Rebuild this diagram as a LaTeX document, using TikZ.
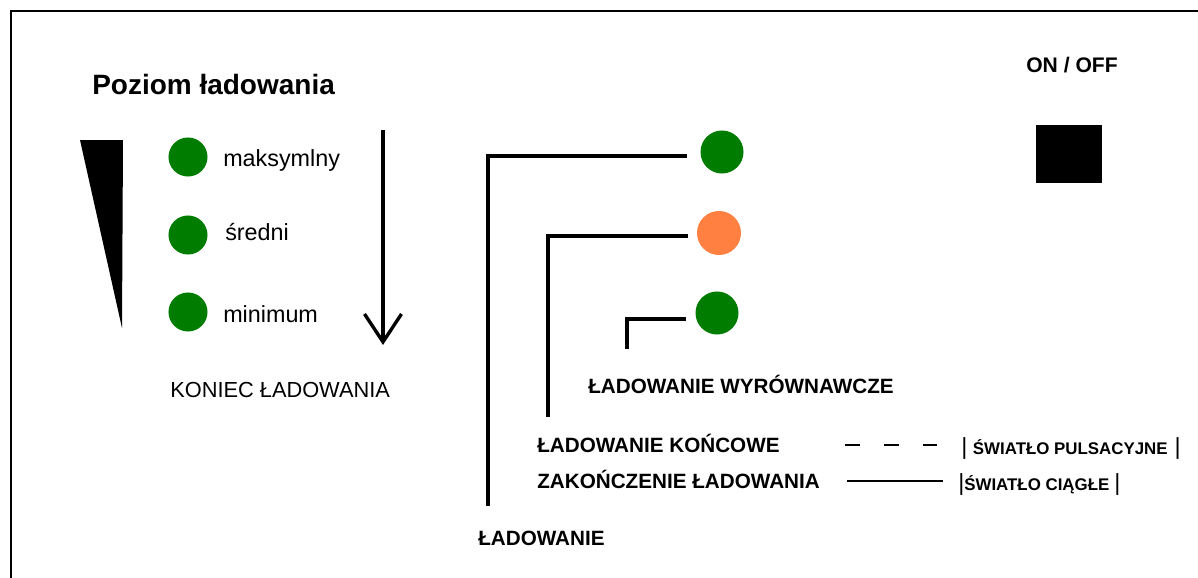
\documentclass[tikz,border=0pt]{standalone}
\usepackage{fontspec}
\setmainfont{Liberation Sans}
\usetikzlibrary{arrows.meta}
\definecolor{ledgreen}{RGB}{0,125,0}
\definecolor{ledorange}{RGB}{255,128,64}
\tikzset{
  led/.style={circle, fill=#1, inner sep=0pt, minimum size=1.075cm},
  ledlvl/.style={circle, fill=ledgreen, inner sep=0pt, minimum size=0.975cm},
  lvltext/.style={anchor=base west, inner sep=0pt, font=\fontsize{16.6pt}{20pt}\selectfont},
  modetext/.style={anchor=base west, inner sep=0pt, font=\bfseries\fontsize{14.7pt}{18pt}\selectfont},
  lighttext/.style={anchor=base west, inner sep=0pt, font=\bfseries\fontsize{12pt}{14pt}\selectfont},
  wire/.style={line width=2.3pt},
  sample/.style={line width=1.1pt},
}
\newcommand{\lbar}{{\mdseries\fontsize{16.6pt}{18pt}\selectfont|}}

\begin{document}
\begin{tikzpicture}[x=0.025cm, y=-0.025cm]
			\useasboundingbox (0,0) rectangle (1198,578);
			\draw[line width=1.4pt] (1198,11)--(11,11)--(11,578);
			%%%%%%%%%%%%%%%%%%%%%%%%%%%%%%%%
			\node[anchor=base west, inner sep=0pt, font=\bfseries\fontsize{19.9pt}{24pt}\selectfont] (title) at (92,95) {Poziom ładowania};
			\fill (80,140)--(123,140)--(122,328)--cycle;
			\node[ledlvl] (ledmax) at (188,157) {};
			\node[ledlvl] (ledmid) at (188,235) {};
			\node[ledlvl] (ledmin) at (188,312) {};
			\node[lvltext] (lvlmax) at (223,166) {maksymlny};
			\node[lvltext] (lvlmid) at (225,240) {średni};
			\node[lvltext] (lvlmin) at (223,322) {minimum};
			\coordinate (arrtop) at (383,130);
			\coordinate (arrtip) at (383,345);
			\draw[line width=2.4pt, -{Straight Barb[length=0.7cm, width=0.925cm]}] (arrtop)--(arrtip);
			\node[anchor=base west, inner sep=0pt, font=\fontsize{15.5pt}{18pt}\selectfont] (endtext) at (170,397) {KONIEC ŁADOWANIA};
			%%%%%%%%%%%%%%%%%%%%%%%%%%%%%
			\node[led=ledgreen] (ledA) at (722,152) {};
			\node[led=ledorange, minimum size=1.1cm] (ledB) at (719,233) {};
			\node[led=ledgreen] (ledC) at (717,313) {};
			\node[modetext] (modeC) at (588,393) {ŁADOWANIE WYRÓWNAWCZE};
			\node[modetext] (modeB) at (537,452) {ŁADOWANIE KOŃCOWE};
			\node[modetext] (modeD) at (537,488) {ZAKOŃCZENIE ŁADOWANIA};
			\node[modetext] (modeA) at (478,545) {ŁADOWANIE};
			\coordinate (endA) at (488,506);
			\coordinate (endB) at (548,417);
			\coordinate (endC) at (627,349);
			\draw[wire] (ledA.west) ++(-13,4) -| (endA);
			\draw[wire] (ledB.west) ++(-9,3) -| (endB);
			\draw[wire] (ledC.west) ++(-9,6) -| (endC);
			%%%%%%%%%%%%%%%%%%%%%%%%%%%%%
			\coordinate (dashL) at (845,445);
			\coordinate (dashR) at (937,445);
			\coordinate (solidL) at (847,481);
			\coordinate (solidR) at (943,481);
			\draw[sample, dash pattern=on 10.7pt off 17pt] (dashL)--(dashR);
			\draw[sample] (solidL)--(solidR);
			\node[lighttext] (pulse) at (961,454) {\lbar\hspace{4pt}ŚWIATŁO PULSACYJNE\hspace{5pt}\lbar};
			\node[lighttext] (steady) at (958,490) {\lbar ŚWIATŁO CIĄGŁE\hspace{3.5pt}\lbar};
			%%%%%%%%%%%%%%%%%%%%%%%%%%%%%
			\node[anchor=base west, inner sep=0pt, font=\bfseries\fontsize{15pt}{18pt}\selectfont] (onoff) at (1026,73) {ON / OFF};
			\node[fill, inner sep=0pt, minimum width=1.65cm, minimum height=1.45cm] (switch) at (1069,154) {};
		\end{tikzpicture}
\end{document}
